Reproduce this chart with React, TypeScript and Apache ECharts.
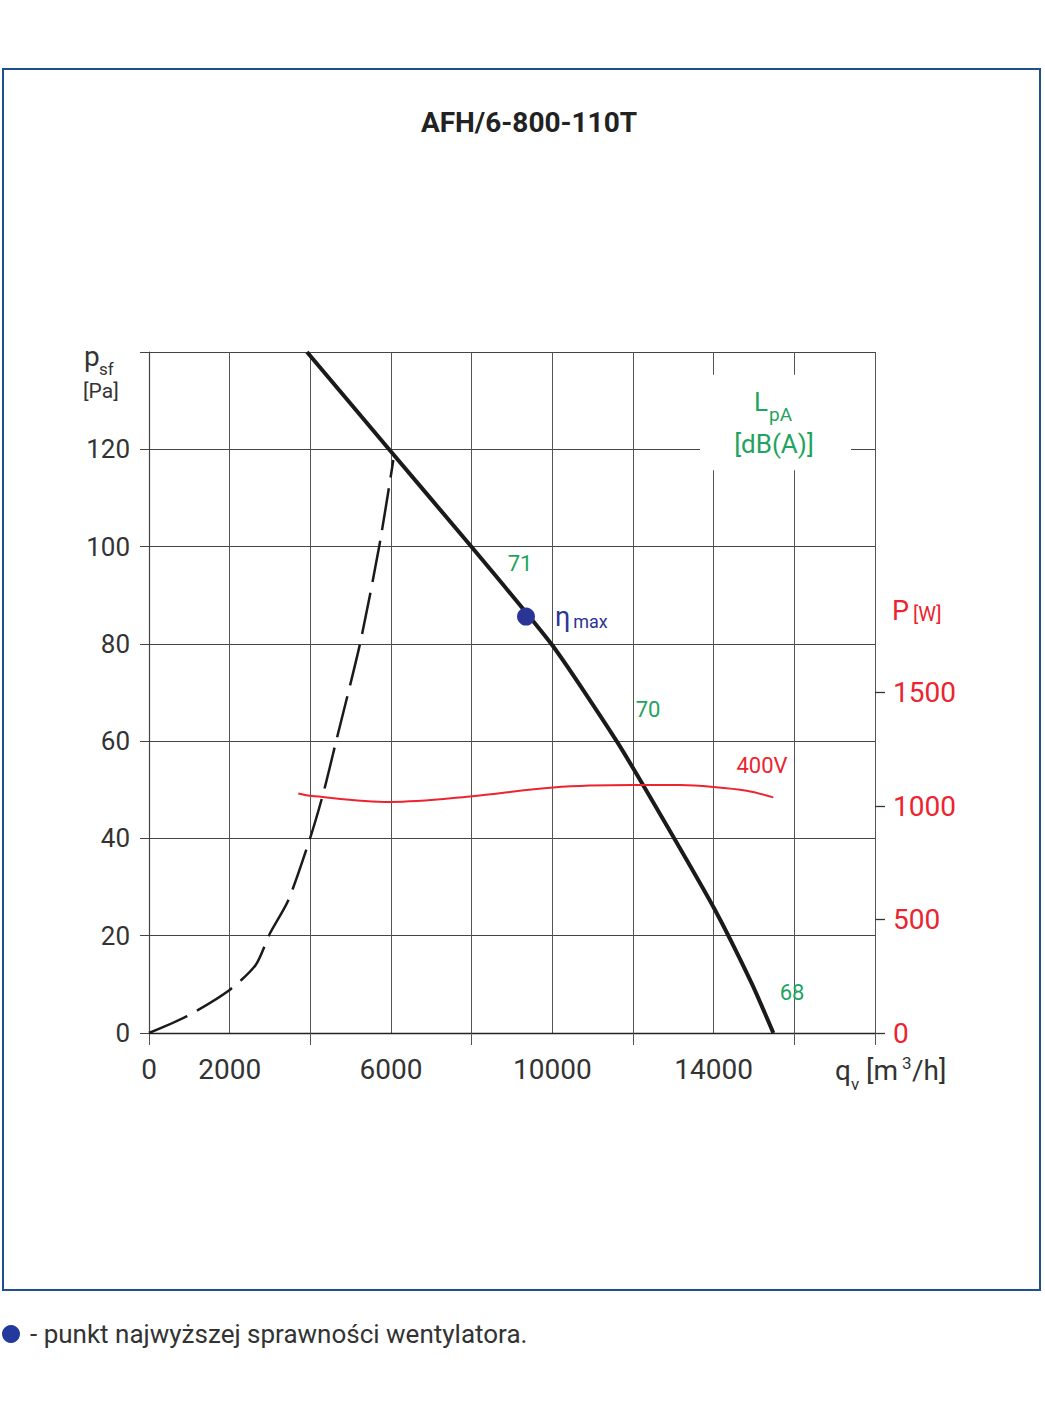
import React, { useEffect, useRef } from "react";
import * as echarts from "echarts";

// Fan curve: static pressure p_sf [Pa] vs airflow q_v [m3/h]
const FAN_Q = [3917, 5950, 8000, 10000, 11595, 12587, 14000, 14943, 15480];
const FAN_P = [140, 120, 99.9, 79.7, 60, 46.2, 25.8, 10.2, 0];

// System (dashed) curve
const SYS_Q = [0, 930, 1990, 2645, 3000, 3454, 3992, 4322, 4640, 5231, 5707, 6058];
const SYS_P = [0, 3.4, 8.8, 14, 20.5, 27.3, 40, 49.3, 60, 80, 100, 117.8];

// Power consumption P [W], 400V
const POW_Q = [3702, 3992, 5975, 7959, 10025, 12008, 13165, 13990, 14818, 15478];
const POW_W = [1055, 1045, 1018, 1042, 1082, 1092, 1092, 1084, 1067, 1038];

// Max efficiency point
const ETA_Q = 9347;
const ETA_P = 85.6;

// Sound level labels [dB(A)]
const DB_TEXT = ["71", "70", "68"];
const DB_Q = [9200, 12372, 15942];
const DB_P = [96.6, 66.6, 8.4];

// Voltage label on power curve
const VOLT_TEXT = "400V";
const VOLT_Q = 15198;
const VOLT_W = 1180;

// Axes
const X_MAX = 18000;
const X_STEP = 2000;
const X_LABELS = [0, 2000, 6000, 10000, 14000];
const Y_MAX = 140;
const Y_STEP = 20;
const W_MAX = 1500;
const W_STEP = 500;

const TITLE = "AFH/6-800-110T";
const FOOTNOTE = "- punkt najwyższej sprawności wentylatora.";

const GREEN = "#1fa35f";
const RED = "#ec2430";
const BLUE = "#2b3595";
const FONT = "Roboto, 'Noto Sans', sans-serif";

export default function App() {
  const ref = useRef<HTMLDivElement>(null);

  useEffect(() => {
    document.body.style.margin = "0";
    if (!ref.current) return;
    const chart = echarts.init(ref.current, undefined, { renderer: "svg" });

    const zip = (a: number[], b: number[]) => a.map((v, i) => [v, b[i]]);

    const txt = (
      text: string,
      x: number,
      y: number,
      size: number,
      fill: string,
      align: string = "left",
      weight: string = "normal"
    ) => ({
      type: "text",
      x,
      y,
      z: 100,
      style: {
        text,
        fill,
        font: `${weight} ${size}px ${FONT}`,
        textAlign: align,
        textVerticalAlign: "middle",
      },
    });

    const option: any = {
      animation: false,
      backgroundColor: "#ffffff",
      textStyle: { fontFamily: FONT },
      grid: [
        { left: 149, top: 352, width: 726, height: 681 },
        { left: 149, top: 692.5, width: 726, height: 340.5 },
      ],
      xAxis: [
        {
          gridIndex: 0,
          type: "value",
          position: "bottom",
          min: 0,
          max: X_MAX,
          interval: X_STEP,
          axisLine: { show: true, onZero: false, lineStyle: { color: "#222", width: 1.3 } },
          axisTick: { show: false },
          splitLine: { show: true, lineStyle: { color: "#555", width: 1 } },
          axisLabel: {
            formatter: (v: number) => (X_LABELS.includes(v) ? String(v) : ""),
            fontSize: 28,
            color: "#333",
            margin: 22,
          },
        },
        {
          gridIndex: 0,
          type: "value",
          position: "bottom",
          min: 0,
          max: X_MAX,
          interval: X_STEP * 2,
          axisLine: { show: false, onZero: false },
          axisTick: { show: true, length: 12, lineStyle: { color: "#555", width: 1 } },
          axisLabel: { show: false },
          splitLine: { show: false },
        },
        {
          gridIndex: 1,
          type: "value",
          min: 0,
          max: X_MAX,
          show: false,
        },
      ],
      yAxis: [
        {
          gridIndex: 0,
          type: "value",
          min: 0,
          max: Y_MAX,
          interval: Y_STEP,
          axisLine: { show: true, onZero: false, lineStyle: { color: "#444", width: 1.2 } },
          axisTick: { show: true, length: 9, lineStyle: { color: "#444", width: 1 } },
          splitLine: { show: true, lineStyle: { color: "#444", width: 1 } },
          axisLabel: {
            formatter: (v: number) => (v === Y_MAX ? "" : String(v)),
            fontSize: 26,
            color: "#333",
            margin: 19,
          },
        },
        {
          gridIndex: 1,
          type: "value",
          position: "right",
          min: 0,
          max: W_MAX,
          interval: W_STEP,
          axisLine: { show: false, onZero: false },
          axisTick: { show: true, length: 10, lineStyle: { color: "#333", width: 1.3 } },
          splitLine: { show: false },
          axisLabel: {
            formatter: (v: number) => String(v),
            fontSize: 28,
            color: RED,
            margin: 18,
          },
        },
      ],
      series: [
        {
          type: "line",
          xAxisIndex: 0,
          yAxisIndex: 0,
          data: zip(SYS_Q, SYS_P),
          smooth: 0.25,
          symbol: "none",
          lineStyle: { color: "#1a1a1a", width: 2.5, type: [42, 11] },
          z: 3,
        },
        {
          type: "line",
          xAxisIndex: 0,
          yAxisIndex: 0,
          data: zip(FAN_Q, FAN_P),
          smooth: 0.2,
          symbol: "none",
          lineStyle: { color: "#1a1a1a", width: 4 },
          z: 4,
          markArea: {
            silent: true,
            itemStyle: { color: "#ffffff", opacity: 1 },
            data: [[{ coord: [13661, 135.3] }, { coord: [17405, 115.7] }]],
          },
        },
        {
          type: "line",
          xAxisIndex: 2,
          yAxisIndex: 1,
          data: zip(POW_Q, POW_W),
          smooth: 0.35,
          symbol: "none",
          lineStyle: { color: RED, width: 2 },
          z: 4,
        },
        {
          type: "scatter",
          xAxisIndex: 0,
          yAxisIndex: 0,
          data: [[ETA_Q, ETA_P]],
          symbolSize: 18,
          itemStyle: { color: BLUE, opacity: 1 },
          z: 6,
          label: {
            show: true,
            position: "right",
            distance: 20,
            formatter: "{e|η}{m|max}",
            rich: {
              e: { fontSize: 27, color: BLUE, fontFamily: FONT },
              m: { fontSize: 18, color: BLUE, fontFamily: FONT, padding: [10, 0, 0, 3] },
            },
          },
        },
        {
          type: "scatter",
          xAxisIndex: 0,
          yAxisIndex: 0,
          data: DB_Q.map((q, i) => ({ value: [q, DB_P[i]], name: DB_TEXT[i] })),
          symbolSize: 2,
          itemStyle: { color: "rgba(0,0,0,0)" },
          z: 6,
          label: {
            show: true,
            position: "inside",
            formatter: (p: any) => p.name,
            fontSize: 22,
            color: GREEN,
            opacity: 1,
          },
        },
        {
          type: "scatter",
          xAxisIndex: 2,
          yAxisIndex: 1,
          data: [{ value: [VOLT_Q, VOLT_W], name: VOLT_TEXT }],
          symbolSize: 2,
          itemStyle: { color: "rgba(0,0,0,0)" },
          z: 6,
          label: {
            show: true,
            position: "inside",
            formatter: (p: any) => p.name,
            fontSize: 22,
            color: RED,
            opacity: 1,
          },
        },
      ],
      graphic: [
        {
          type: "rect",
          shape: { x: 3, y: 69, width: 1037, height: 1221 },
          style: { fill: "none", stroke: "#1f4f8f", lineWidth: 2 },
          z: 100,
        },
        txt(TITLE, 529, 122, 28, "#222", "center", "bold"),
        txt("p", 84, 356, 28, "#333"),
        txt("sf", 99, 369, 17, "#333"),
        txt("[Pa]", 83, 391, 21, "#333"),
        txt("L", 754, 402, 26, GREEN),
        txt("pA", 769, 414, 19, GREEN),
        txt("[dB(A)]", 774, 444, 26, GREEN, "center"),
        txt("P", 892, 611, 27, RED),
        txt("[W]", 913, 614, 20, RED),
        txt("q", 835, 1070, 28, "#333"),
        txt("v", 851, 1084, 17, "#333"),
        txt("[m", 866, 1070, 28, "#333"),
        txt("3", 902, 1063, 17, "#333"),
        txt("/h]", 912, 1070, 28, "#333"),
        {
          type: "circle",
          shape: { cx: 11, cy: 1334, r: 9 },
          style: { fill: "#22399e" },
          z: 100,
        },
        txt(FOOTNOTE, 30, 1334, 26, "#333"),
      ],
    };

    chart.setOption(option);
    return () => chart.dispose();
  }, []);

  return <div ref={ref} style={{ width: 1045, height: 1415 }} />;
}
